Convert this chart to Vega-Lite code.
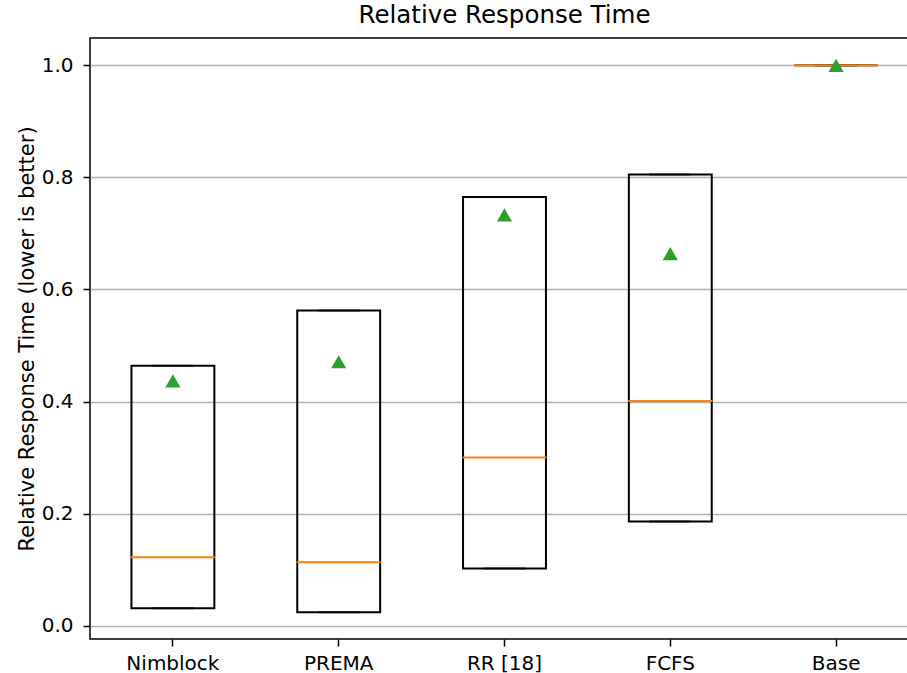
{
  "$schema": "https://vega.github.io/schema/vega-lite/v6.json",
  "autosize": "none",
  "padding": {"left": 90, "top": 38, "right": 0, "bottom": 34},
  "width": 829,
  "height": 601,
  "background": "white",
  "config": {
    "font": "DejaVu Sans",
    "view": {"stroke": "black", "strokeWidth": 1.5},
    "axis": {
      "labelFont": "DejaVu Sans",
      "titleFont": "DejaVu Sans",
      "labelColor": "black",
      "titleColor": "black",
      "labelFontSize": 20,
      "titleFontSize": 21,
      "titleFontWeight": "normal",
      "tickColor": "black",
      "tickWidth": 1.5,
      "tickSize": 7,
      "domain": false
    }
  },
  "title": {
    "text": "Relative Response Time",
    "fontSize": 24.5,
    "fontWeight": "normal",
    "font": "DejaVu Sans",
    "color": "black",
    "anchor": "middle",
    "baseline": "bottom",
    "offset": -14
  },
  "data": {
    "values": [
      {"scheduler": "Nimblock", "min": 0.031, "q1": 0.031, "median": 0.122, "q3": 0.464, "max": 0.464, "mean": 0.437},
      {"scheduler": "PREMA", "min": 0.024, "q1": 0.024, "median": 0.113, "q3": 0.5625, "max": 0.5625, "mean": 0.471},
      {"scheduler": "RR [18]", "min": 0.102, "q1": 0.102, "median": 0.300, "q3": 0.765, "max": 0.765, "mean": 0.733},
      {"scheduler": "FCFS", "min": 0.186, "q1": 0.186, "median": 0.401, "q3": 0.805, "max": 0.805, "mean": 0.664},
      {"scheduler": "Base", "min": 1.0, "q1": 1.0, "median": 1.0, "q3": 1.0, "max": 1.0, "mean": 1.0}
    ]
  },
  "encoding": {
    "x": {
      "field": "scheduler",
      "type": "nominal",
      "sort": null,
      "scale": {"paddingInner": 0, "paddingOuter": 0},
      "axis": {"title": null, "labelAngle": 0, "labelPadding": 7, "grid": false}
    }
  },
  "layer": [
    {
      "mark": {"type": "bar", "width": {"band": 0.5}, "fillOpacity": 0, "fill": "white", "stroke": "black", "strokeWidth": 2},
      "encoding": {
        "y": {
          "field": "q1",
          "type": "quantitative",
          "scale": {"domain": [-0.02375, 1.04875], "nice": false, "zero": false},
          "axis": {
            "title": "Relative Response Time (lower is better)",
            "values": [0, 0.2, 0.4, 0.6, 0.8, 1.0],
            "format": ".1f",
            "grid": true,
            "gridColor": "#b0b0b0",
            "gridWidth": 1.4,
            "labelPadding": 10,
            "titlePadding": 4
          }
        },
        "y2": {"field": "q3"}
      }
    },
    {
      "mark": {"type": "tick", "orient": "horizontal", "size": 42, "thickness": 2, "color": "black"},
      "encoding": {"y": {"field": "min", "type": "quantitative"}}
    },
    {
      "mark": {"type": "tick", "orient": "horizontal", "size": 42, "thickness": 2, "color": "black"},
      "encoding": {"y": {"field": "max", "type": "quantitative"}}
    },
    {
      "mark": {"type": "tick", "orient": "horizontal", "size": 84, "thickness": 2, "color": "#ff7f0e", "opacity": 1},
      "encoding": {"y": {"field": "median", "type": "quantitative"}}
    },
    {
      "mark": {"type": "point", "shape": "triangle-up", "filled": true, "size": 230, "color": "#2ca02c", "opacity": 1},
      "encoding": {"y": {"field": "mean", "type": "quantitative"}}
    }
  ]
}
